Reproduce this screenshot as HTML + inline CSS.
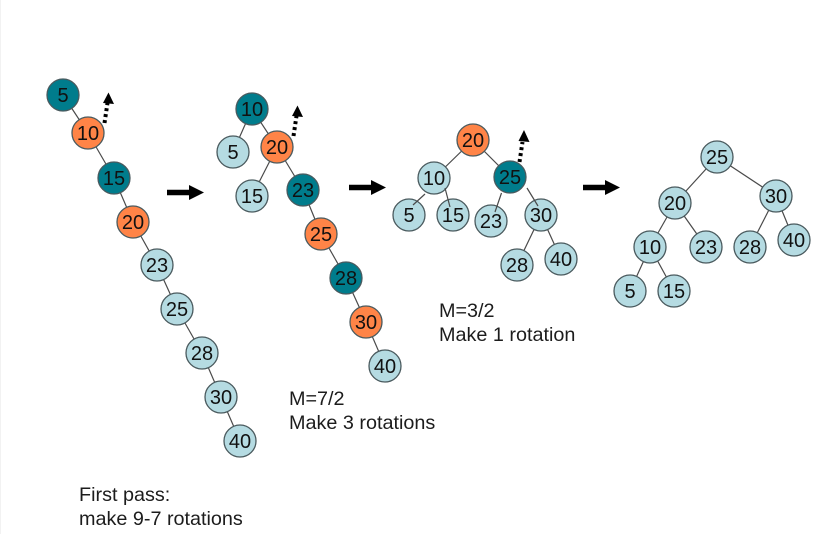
<!DOCTYPE html>
<html><head><meta charset="utf-8"><style>
html,body{margin:0;padding:0;background:#fff;width:836px;height:534px;overflow:hidden}
svg{display:block;filter:blur(0.35px)}
text{font-family:"Liberation Sans",sans-serif;fill:#111}
.n text{font-size:20px;text-anchor:middle}
.t{font-size:19.8px;fill:#1c1c1c}
.e line{stroke:#4a4a4a;stroke-width:1.2}
circle{stroke:#4a5a5e;stroke-width:1.3}
.a{fill:#b5dbe2}.b{fill:#ff8447}.c{fill:#007c8c}
</style></head><body>
<svg width="836" height="534" viewBox="0 0 836 534">
<rect width="836" height="534" fill="#fff"/>
<line x1="0.500" y1="0" x2="0.500" y2="534" stroke="#f2f2f2"/>
<g class="e">
<line x1="63" y1="95" x2="88" y2="133"/><line x1="88" y1="133" x2="114" y2="178"/><line x1="114" y1="178" x2="133" y2="222"/><line x1="133" y1="222" x2="157" y2="265"/><line x1="157" y1="265" x2="177" y2="309"/><line x1="177" y1="309" x2="202" y2="353"/><line x1="202" y1="353" x2="221" y2="397"/><line x1="221" y1="397" x2="240" y2="441"/>
<line x1="252" y1="109" x2="233" y2="152"/><line x1="252" y1="109" x2="277" y2="147"/><line x1="277" y1="147" x2="252" y2="196"/><line x1="277" y1="147" x2="303" y2="190"/><line x1="303" y1="190" x2="321" y2="234"/><line x1="321" y1="234" x2="346" y2="278"/><line x1="346" y1="278" x2="366" y2="322"/><line x1="366" y1="322" x2="385" y2="366"/>
<line x1="473" y1="140" x2="434" y2="178"/><line x1="473" y1="140" x2="510" y2="177"/><line x1="541" y1="215" x2="517" y2="265"/><line x1="541" y1="215" x2="561" y2="259"/>
<line x1="717" y1="157" x2="675" y2="203"/><line x1="717" y1="157" x2="776" y2="196"/><line x1="675" y1="203" x2="650" y2="247"/><line x1="675" y1="203" x2="706" y2="247"/><line x1="776" y1="196" x2="750" y2="247"/><line x1="776" y1="196" x2="794" y2="240"/><line x1="650" y1="247" x2="630" y2="291"/><line x1="650" y1="247" x2="674" y2="291"/>
</g>
<g class="n">
<circle class="c" cx="63" cy="95" r="16"/><text x="63" y="102">5</text>
<circle class="b" cx="88" cy="133" r="16"/><text x="88" y="140">10</text>
<circle class="c" cx="114" cy="178" r="16"/><text x="114" y="185">15</text>
<circle class="b" cx="133" cy="222" r="16"/><text x="133" y="229">20</text>
<circle class="a" cx="157" cy="265" r="16"/><text x="157" y="272">23</text>
<circle class="a" cx="177" cy="309" r="16"/><text x="177" y="316">25</text>
<circle class="a" cx="202" cy="353" r="16"/><text x="202" y="360">28</text>
<circle class="a" cx="221" cy="397" r="16"/><text x="221" y="404">30</text>
<circle class="a" cx="240" cy="441" r="16"/><text x="240" y="448">40</text>

<circle class="c" cx="252" cy="109" r="16"/><text x="252" y="116">10</text>
<circle class="a" cx="233" cy="152" r="16"/><text x="233" y="159">5</text>
<circle class="b" cx="277" cy="147" r="16"/><text x="277" y="154">20</text>
<circle class="a" cx="252" cy="196" r="16"/><text x="252" y="203">15</text>
<circle class="c" cx="303" cy="190" r="16"/><text x="303" y="197">23</text>
<circle class="b" cx="321" cy="234" r="16"/><text x="321" y="241">25</text>
<circle class="c" cx="346" cy="278" r="16"/><text x="346" y="285">28</text>
<circle class="b" cx="366" cy="322" r="16"/><text x="366" y="329">30</text>
<circle class="a" cx="385" cy="366" r="16"/><text x="385" y="373">40</text>

<circle class="b" cx="473" cy="140" r="16"/><text x="473" y="147">20</text>
<circle class="a" cx="434" cy="178" r="16"/><text x="434" y="185">10</text>
<circle class="c" cx="510" cy="177" r="16"/><text x="510" y="184">25</text>
<circle class="a" cx="409" cy="215" r="16"/><text x="409" y="222">5</text>
<circle class="a" cx="453" cy="215" r="16"/><text x="453" y="222">15</text>
<circle class="a" cx="491" cy="221" r="16"/><text x="491" y="228">23</text>
<circle class="a" cx="541" cy="215" r="16"/><text x="541" y="222">30</text>
<circle class="a" cx="517" cy="265" r="16"/><text x="517" y="272">28</text>
<circle class="a" cx="561" cy="259" r="16"/><text x="561" y="266">40</text>

<circle class="a" cx="717" cy="157" r="16"/><text x="717" y="164">25</text>
<circle class="a" cx="675" cy="203" r="16"/><text x="675" y="210">20</text>
<circle class="a" cx="776" cy="196" r="16"/><text x="776" y="203">30</text>
<circle class="a" cx="650" cy="247" r="16"/><text x="650" y="254">10</text>
<circle class="a" cx="706" cy="247" r="16"/><text x="706" y="254">23</text>
<circle class="a" cx="750" cy="247" r="16"/><text x="750" y="254">28</text>
<circle class="a" cx="794" cy="240" r="16"/><text x="794" y="247">40</text>
<circle class="a" cx="630" cy="291" r="16"/><text x="630" y="298">5</text>
<circle class="a" cx="674" cy="291" r="16"/><text x="674" y="298">15</text>
</g>
<g class="e">
<line x1="425" y1="194" x2="413" y2="205"/>
<line x1="445" y1="188" x2="450" y2="207"/>
<line x1="501.500" y1="193" x2="495" y2="212"/>
<line x1="527" y1="188" x2="538" y2="206"/>
</g>
<g fill="#000">
<path d="M167 189.800H189V185L204 192.500L189 200V195.200H167Z"/>
<path d="M349 184.800H371V180L386 187.500L371 195V190.200H349Z"/>
<path d="M583 184.800H605V180L620 187.500L605 195V190.200H583Z"/>
</g>
<g stroke="#000" stroke-width="4" stroke-dasharray="3 3" fill="none">
<line x1="104.500" y1="123" x2="107.500" y2="103"/>
<line x1="293.500" y1="136" x2="296.500" y2="116"/>
<line x1="519.500" y1="162" x2="522.500" y2="142"/>
</g>
<g fill="#000">
<path d="M108.500 92.500L114 104L103 103Z"/>
<path d="M297.500 105.500L303 117L292 116Z"/>
<path d="M524 130L529.500 142L518.500 141Z"/>
</g>
<text class="t" x="289" y="405">M=7/2</text>
<text class="t" x="289" y="429">Make 3 rotations</text>
<text class="t" x="439" y="317">M=3/2</text>
<text class="t" x="439" y="341">Make 1 rotation</text>
<text class="t" x="79" y="501">First pass:</text>
<text class="t" x="79" y="525">make 9-7 rotations</text>
</svg>
</body></html>
